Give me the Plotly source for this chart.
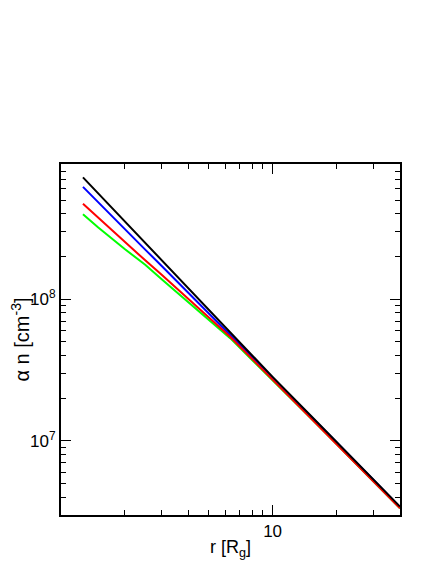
import plotly.graph_objects as go

# radius in gravitational radii
r = [1.27, 1.5, 2, 2.5, 3, 4, 5, 6.3, 8, 10, 15, 20, 30, 40]

# alpha * n [cm^-3] for the four models
n_black = [7.24e8, 5.58e8, 3.55e8, 2.49e8, 1.87e8, 1.19e8, 8.40e7, 5.85e7, 4.02e7, 2.83e7, 1.53e7, 9.91e6, 5.35e6, 3.44e6]
n_blue = [6.21e8, 4.82e8, 3.13e8, 2.24e8, 1.71e8, 1.11e8, 7.94e7, 5.61e7, 3.93e7, 2.81e7, 1.52e7, 9.84e6, 5.30e6, 3.41e6]
n_red = [4.71e8, 3.75e8, 2.55e8, 1.88e8, 1.48e8, 1.00e8, 7.42e7, 5.43e7, 3.79e7, 2.71e7, 1.47e7, 9.53e6, 5.16e6, 3.35e6]
n_green = [3.98e8, 3.21e8, 2.26e8, 1.75e8, 1.38e8, 9.49e7, 7.13e7, 5.31e7, 3.72e7, 2.69e7, 1.47e7, 9.53e6, 5.16e6, 3.35e6]

x_major = [10]
x_minor = [2, 3, 4, 5, 6, 7, 8, 9, 20, 30, 40]
y_major = [1e7, 1e8]
y_major_text = ["10<sup>7</sup>", "10<sup>8</sup>"]
y_minor = [3e6, 4e6, 5e6, 6e6, 7e6, 8e6, 9e6,
           2e7, 3e7, 4e7, 5e7, 6e7, 7e7, 8e7, 9e7,
           2e8, 3e8, 4e8, 5e8, 6e8, 7e8, 8e8, 9e8]

fig = go.Figure()
for ys, col in [(n_green, "#00ff00"), (n_blue, "#0000ff"), (n_red, "#ff0000"), (n_black, "#000000")]:
    fig.add_trace(go.Scatter(x=r, y=ys, mode="lines", line=dict(color=col, width=2), showlegend=False))

axis_common = dict(
    type="log", showline=True, linecolor="black", linewidth=2, mirror="allticks",
    ticks="inside", ticklen=10, tickwidth=1, tickcolor="black", showgrid=False, zeroline=False,
    tickfont=dict(size=17, color="black"), automargin=False,
)

fig.update_xaxes(
    **axis_common,
    range=[0, 1.60206],
    tickmode="array", tickvals=x_major, ticktext=["10"],
    minor=dict(tickmode="array", tickvals=x_minor, ticks="inside", ticklen=5, tickcolor="black", showgrid=False),
    title=dict(text="r [R<sub>g</sub>]", font=dict(size=18, color="black"), standoff=0),
)
fig.update_yaxes(
    **axis_common,
    range=[6.4771, 8.9542],
    tickmode="array", tickvals=y_major, ticktext=y_major_text,
    minor=dict(tickmode="array", tickvals=y_minor, ticks="inside", ticklen=5, tickcolor="black", showgrid=False),
    title=dict(text="α n [cm<sup>-3</sup>]", font=dict(size=20, color="black"), standoff=2),
)

# page body adds an 8px margin, so the figure is drawn 8px smaller
fig.update_layout(
    width=428, height=556,
    margin=dict(l=53, r=36, t=156, b=49),
    plot_bgcolor="white", paper_bgcolor="white",
    font=dict(family="Liberation Sans, Arial, sans-serif", color="black"),
)

fig.write_html("out.html")
